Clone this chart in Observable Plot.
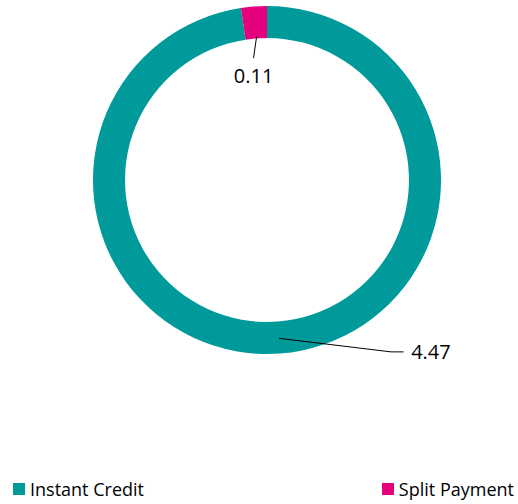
<!DOCTYPE html>
<html>
<head>
<meta charset="utf-8">
<script src="https://cdn.jsdelivr.net/npm/d3@7"></script>
<script src="https://cdn.jsdelivr.net/npm/@observablehq/plot@0.6"></script>
<style>
  body { margin: 0; background: #fff; font-family: "Open Sans", sans-serif; }
  #wrap { width: 518px; }
  #legend { display: flex; justify-content: space-between; align-items: center; height: 26px; padding: 0 4px 0 13px; font-size: 18px; color: #000; }
  .item { display: flex; align-items: center; }
  .sw { width: 12px; height: 12px; margin-right: 5px; }
</style>
</head>
<body>
<div id="wrap"></div>
<script>
const categories = ["Instant Credit", "Split Payment"];
const values = [4.47, 0.11];
const valueLabels = ["4.47", "0.11"];
const colors = ["#009A9A", "#E5007D"];

// layout (unit = outer radius)
const innerRatio = 0.816;
const labelLayout = [
  { lx: 0.82, ly: -0.99, elbow: 0.71, end: 0.78, r0: 0.91, anchor: "start" }, // 4.47
  { lx: -0.08, ly: 0.60, r0: 0.83, anchor: "middle" }                      // 0.11
];

const pie = d3.pie().sort(null).value(d => d)(values);
const mids = pie.map(p => (p.startAngle + p.endAngle) / 2);

// leader lines
const leaders = [];
pie.forEach((p, i) => {
  const L = labelLayout[i];
  const a = mids[i];
  const start = { x: L.r0 * Math.sin(a), y: L.r0 * Math.cos(a), k: i };
  if (i === 0) {
    leaders.push(start, { x: L.elbow, y: L.ly + 0.005, k: i }, { x: L.end, y: L.ly + 0.005, k: i });
  } else {
    leaders.push(start, { x: L.lx, y: L.ly + 0.105, k: i });
  }
});
const labels = pie.map((p, i) => ({ x: labelLayout[i].lx, y: labelLayout[i].ly, text: valueLabels[i], anchor: labelLayout[i].anchor }));

function donut(index, scales) {
  const sx = scales.x, sy = scales.y;
  const cx = sx(0), cy = sy(0);
  const R = sx(1) - sx(0);
  const arc = d3.arc().innerRadius(R * innerRatio).outerRadius(R);
  const g = d3.create("svg:g").attr("transform", `translate(${cx},${cy})`);
  g.selectAll("path").data(pie).join("path")
    .attr("d", arc)
    .attr("fill", (d, i) => colors[i]);
  return g.node();
}

const chart = Plot.plot({
  width: 518,
  height: 476,
  marginLeft: 93,
  marginRight: 77,
  marginTop: 6,
  marginBottom: 122,
  x: { domain: [-1, 1], axis: null },
  y: { domain: [-1, 1], axis: null },
  style: { fontFamily: "Open Sans, sans-serif", background: "#fff" },
  marks: [
    donut,
    Plot.line(leaders, { x: "x", y: "y", z: "k", stroke: "#000", strokeWidth: 1 }),
    Plot.text(labels.filter(d => d.anchor === "start"), { x: "x", y: "y", text: "text", textAnchor: "start", fontSize: 20, fill: "#000", dx: 1 }),
    Plot.text(labels.filter(d => d.anchor === "middle"), { x: "x", y: "y", text: "text", textAnchor: "middle", fontSize: 20, fill: "#000" })
  ]
});

const wrap = document.getElementById("wrap");
wrap.appendChild(chart);
const legend = document.createElement("div");
legend.id = "legend";
categories.forEach((c, i) => {
  const it = document.createElement("div");
  it.className = "item";
  const sw = document.createElement("span");
  sw.className = "sw";
  sw.style.background = colors[i];
  const t = document.createElement("span");
  t.textContent = c;
  it.appendChild(sw); it.appendChild(t);
  legend.appendChild(it);
});
wrap.appendChild(legend);
</script>
</body>
</html>
